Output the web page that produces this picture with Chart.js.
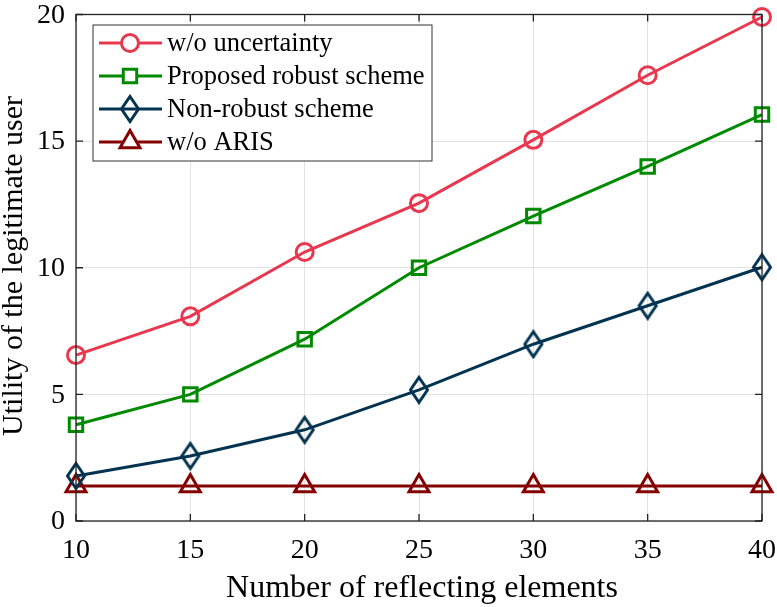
<!DOCTYPE html>
<html>
<head>
<meta charset="utf-8">
<script src="https://cdn.jsdelivr.net/npm/chart.js@4"></script>
<style>
  html, body { margin: 0; padding: 0; background: #fff; }
  #wrap { width: 777px; height: 607px; }
</style>
</head>
<body>
<div id="wrap"><canvas id="utilChart" width="777" height="607"></canvas></div>
<script>
// Data
const elements = [10, 15, 20, 25, 30, 35, 40];
const noUncertainty = [6.55, 8.08, 10.62, 12.55, 15.05, 17.6, 19.9];
const robustScheme = [3.8, 5.0, 7.18, 10.0, 12.04, 14.0, 16.05];
const nonRobust = [1.78, 2.57, 3.6, 5.18, 6.98, 8.5, 10.02];
const noAris = [1.38, 1.38, 1.38, 1.38, 1.38, 1.38, 1.38];
const xTicks = [10, 15, 20, 25, 30, 35, 40];
const yTicks = [0, 5, 10, 15, 20];
const xTitle = 'Number of reflecting elements';
const yTitle = 'Utility of the legitimate user';

const colors = {
    red: '#e8384f',
    green: '#008a00',
    navy: '#023452',
    maroon: '#850000',
};

const FONT = '"Liberation Serif", "Times New Roman", serif';

// tall hollow diamond marker, like the MATLAB one
function makeDiamond(color) {
    const c = document.createElement('canvas');
    c.width = 22; c.height = 30;
    const g = c.getContext('2d');
    g.strokeStyle = color;
    g.lineWidth = 3;
    g.beginPath();
    g.moveTo(11, 2.5); g.lineTo(19.5, 15); g.lineTo(11, 27.5); g.lineTo(2.5, 15);
    g.closePath();
    g.stroke();
    return c;
}

function toPoints(ys) {
    return elements.map((x, i) => ({ x: x, y: ys[i] }));
}

function series(label, ys, color, style, radius) {
    return {
        label: label,
        data: toPoints(ys),
        borderColor: color,
        backgroundColor: color,
        borderWidth: 3,
        showLine: true,
        pointStyle: style,
        pointRadius: radius,
        pointBorderWidth: 3,
        pointBorderColor: color,
        pointBackgroundColor: 'rgba(255,255,255,0)',
        tension: 0,
    };
}

// frame, inner ticks, tick labels, titles and legend box
const framePlugin = {
    id: 'frame',
    afterDatasetsDraw(chart) {
        const { ctx, chartArea: a, scales } = chart;
        ctx.save();
        ctx.strokeStyle = '#222';
        ctx.lineWidth = 1.3;
        ctx.strokeRect(a.left, a.top, a.right - a.left, a.bottom - a.top);
        ctx.beginPath();
        xTicks.forEach(v => {
            const px = scales.x.getPixelForValue(v);
            ctx.moveTo(px, a.bottom); ctx.lineTo(px, a.bottom - 7);
            ctx.moveTo(px, a.top); ctx.lineTo(px, a.top + 7);
        });
        yTicks.forEach(v => {
            const py = scales.y.getPixelForValue(v);
            ctx.moveTo(a.left, py); ctx.lineTo(a.left + 7, py);
            ctx.moveTo(a.right, py); ctx.lineTo(a.right - 7, py);
        });
        ctx.stroke();

        // tick labels
        ctx.fillStyle = '#000';
        ctx.font = '28px ' + FONT;
        ctx.textBaseline = 'middle';
        ctx.textAlign = 'center';
        xTicks.forEach(v => {
            ctx.fillText(String(v), scales.x.getPixelForValue(v), 551);
        });
        ctx.textAlign = 'right';
        yTicks.forEach(v => {
            ctx.fillText(String(v), 65, scales.y.getPixelForValue(v) + 1);
        });

        // axis titles
        ctx.textAlign = 'center';
        ctx.textBaseline = 'alphabetic';
        ctx.font = '32px ' + FONT;
        ctx.fillText(xTitle, (a.left + a.right) / 2 + 3, 597);
        ctx.font = '30px ' + FONT;
        ctx.save();
        ctx.translate(22, 266);
        ctx.rotate(-Math.PI / 2);
        ctx.fillText(yTitle, 0, 0);
        ctx.restore();

        // legend
        const lx = 93, ly = 25, lw = 339, lh = 136;
        ctx.fillStyle = '#fff';
        ctx.fillRect(lx, ly, lw, lh);
        ctx.strokeStyle = '#333';
        ctx.lineWidth = 1;
        ctx.strokeRect(lx, ly, lw, lh);
        ctx.font = '26.5px ' + FONT;
        ctx.textBaseline = 'middle';
        ctx.textAlign = 'left';
        chart.data.datasets.forEach((ds, i) => {
            const cy = ly + 18 + i * 33;
            ctx.strokeStyle = ds.borderColor;
            ctx.lineWidth = 3;
            ctx.beginPath();
            ctx.moveTo(lx + 6, cy); ctx.lineTo(lx + 69, cy);
            ctx.stroke();
            ctx.fillStyle = '#fff';
            Chart.helpers.drawPoint(ctx, {
                pointStyle: ds.pointStyle,
                radius: ds.pointRadius,
                borderWidth: 3,
            }, lx + 37, cy);
            ctx.fillStyle = '#000';
            ctx.fillText(ds.label, lx + 74, cy + 1);
        });
        ctx.restore();
    }
};

const ctx = document.getElementById('utilChart').getContext('2d');
new Chart(ctx, {
    type: 'scatter',
    data: {
        datasets: [
            series('w/o uncertainty', noUncertainty, colors.red, 'circle', 8.5),
            series('Proposed robust scheme', robustScheme, colors.green, 'rect', 9.5),
            series('Non-robust scheme', nonRobust, colors.navy, makeDiamond(colors.navy), 11),
            series('w/o ARIS', noAris, colors.maroon, 'triangle', 11.5),
        ]
    },
    options: {
        responsive: false,
        animation: false,
        devicePixelRatio: 1,
        clip: false,
        layout: { padding: { top: 9, right: 15, left: 0, bottom: 0 } },
        plugins: {
            legend: { display: false },
            tooltip: { enabled: false },
        },
        scales: {
            x: {
                type: 'linear',
                min: 10,
                max: 40,
                afterBuildTicks: s => { s.ticks = xTicks.map(v => ({ value: v })); },
                afterFit: s => { s.height = 86; },
                ticks: { display: false },
                grid: { color: '#e2e2e2', lineWidth: 1, drawTicks: false },
                border: { display: false },
            },
            y: {
                type: 'linear',
                min: 0,
                max: 20,
                afterBuildTicks: s => { s.ticks = yTicks.map(v => ({ value: v })); },
                afterFit: s => { s.width = 76; },
                ticks: { display: false },
                grid: { color: '#e2e2e2', lineWidth: 1, drawTicks: false },
                border: { display: false },
            }
        }
    },
    plugins: [framePlugin]
});
</script>
</body>
</html>
